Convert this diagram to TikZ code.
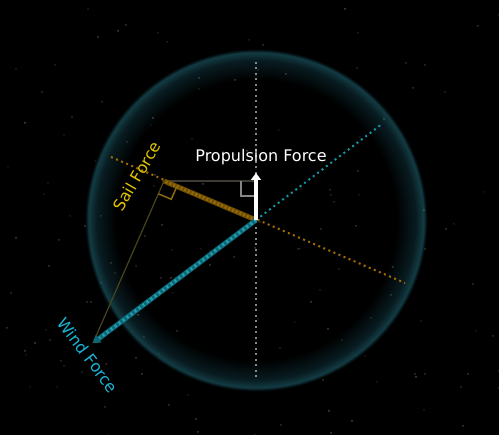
\documentclass[tikz,border=0pt]{standalone}
\usepackage{fontspec}
\setmainfont{DejaVu Sans}
\usetikzlibrary{arrows.meta,calc}
\definecolor{ringc}{RGB}{19,60,68}
\definecolor{ringdim}{RGB}{8,28,33}
\definecolor{sailc}{RGB}{160,108,0}
\definecolor{sailthick}{RGB}{110,78,0}
\definecolor{saildot}{RGB}{150,106,12}
\definecolor{sailtext}{RGB}{225,195,0}
\definecolor{windc}{RGB}{20,150,168}
\definecolor{windthick}{RGB}{12,105,120}
\definecolor{winddot}{RGB}{40,160,180}
\definecolor{windtext}{RGB}{25,180,215}
\definecolor{projc}{RGB}{72,68,30}
\definecolor{horizc}{RGB}{62,60,50}
\definecolor{markc}{RGB}{140,105,15}
\definecolor{axisc}{RGB}{135,135,135}
\pgfdeclareradialshading{ringshade}{\pgfpoint{0bp}{0bp}}{color(0bp)=(black); color(19.5bp)=(black); color(22.2bp)=(ringdim); color(23.3bp)=(ringc); color(23.5bp)=(ringdim); color(23.8bp)=(black); color(50bp)=(black)}
\tikzset{
  dotline/.style={line width=2pt, dash pattern=on 2pt off 3.5pt},
  lbl/.style={font=\fontsize{16}{16}\selectfont, inner sep=0pt},
}
\begin{document}
\begin{tikzpicture}[x=1pt,y=-1pt]
\fill[black] (0,0) rectangle (499,435);
\useasboundingbox (0,0) rectangle (499,435);
\shade[shading=ringshade] (256,220) circle (180);
\pgfmathsetseed{11}
\foreach \i in {1,...,150} {
  \pgfmathsetmacro\sx{random(0,499)}
  \pgfmathsetmacro\sy{random(0,435)}
  \pgfmathsetmacro\so{0.08+0.2*rnd}
  \fill[white,opacity=\so] (\sx,\sy) circle (1);
}
\coordinate (O) at (256,220);
\coordinate (sailA) at (111,157);
\coordinate (sailB) at (405,283);
\coordinate (windA) at (382,124);
\coordinate (S) at (164,181);
\coordinate (W) at (93,343);
\coordinate (H) at (256,181);
\coordinate (P) at (256,173);
\coordinate (vT) at (256,62);
\coordinate (vB) at (256,378);
% axes
\draw[axisc, dotline] (vT) -- (vB);
\draw[sailc, dotline] (sailA) -- (sailB);
\draw[windc, dotline] (O) -- (windA);
% projections
\draw[projc, line width=1.2pt] (W) -- (S);
\draw[horizc, line width=1.5pt] (S) -- (H);
% thick forces
\draw[sailthick, line width=5pt] (O) -- (S);
\draw[saildot, line width=3pt, dash pattern=on 2pt off 2pt] (O) -- (S);
\draw[windthick, line width=5pt, -{Triangle[width=9pt,length=7pt]}] (O) -- (W);
\draw[winddot, line width=3pt, dash pattern=on 2pt off 3pt, shorten >=8pt] (O) -- (W);
% right angle markers
\coordinate (sa) at ($(S)!14pt!(O)$);
\coordinate (sw) at ($(S)!14pt!(W)$);
\draw[markc, line width=1.5pt] (sa) -- ($(sa)+(sw)-(S)$) -- (sw);
\draw[axisc, line width=1.5pt] ($(H)+(-15,0)$) -- ($(H)+(-15,15)$) -- ($(H)+(0,15)$);
% propulsion arrow
\draw[white, line width=4pt, -{Triangle[width=10pt,length=7pt]}] (O) -- (P);
% labels
\node[lbl, white] (tprop) at (261,157) {Propulsion Force};
\node[lbl, sailtext, rotate=60] (tsail) at (137,176) {Sail Force};
\node[lbl, windtext, rotate=-53] (twind) at (88,355) {Wind Force};
\end{tikzpicture}
\end{document}
